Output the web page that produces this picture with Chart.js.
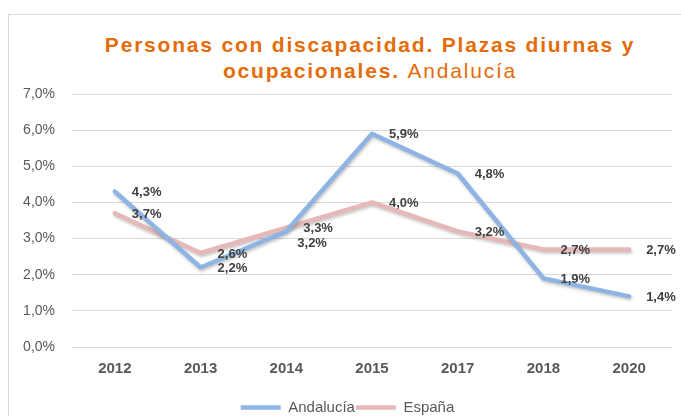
<!DOCTYPE html>
<html>
<head>
<meta charset="utf-8">
<script src="https://cdn.jsdelivr.net/npm/chart.js@4"></script>
<style>
  body { margin: 0; background: #fff; }
  .wrap { position: relative; width: 681px; height: 416px; overflow: hidden; }
  .frame { position: absolute; left: 8px; top: 14px; width: 700px; height: 430px; border: 1px solid #d9d9d9; }
  .title {
    position: absolute; left: 0; top: 32px; width: 740px; text-align: center;
    font-family: "Liberation Sans", Arial, sans-serif; font-size: 21px; line-height: 26px;
    color: #E46C0A; font-weight: bold; letter-spacing: 1.8px;
  }
  .title span { font-weight: normal; }
  canvas { position: absolute; left: 0; top: 0; }
</style>
</head>
<body>
<div class="wrap">
  <div class="frame"></div>
  <div class="title">Personas con discapacidad. Plazas diurnas y<br>ocupacionales. <span>Andalucía</span></div>
  <canvas id="chart" width="681" height="416"></canvas>
</div>
<script>
// data
const years = ["2012", "2013", "2014", "2015", "2017", "2018", "2020"];
const andalucia = [4.3, 2.2, 3.2, 5.9, 4.8, 1.9, 1.4];
const espana = [3.7, 2.6, 3.3, 4.0, 3.2, 2.7, 2.7];
const yTicks = [0, 1, 2, 3, 4, 5, 6, 7];

const fmt = (v) => v.toFixed(1).replace(".", ",") + "%";

// soft shadow under the lines, like the Excel original
const lineShadow = {
  id: "lineShadow",
  beforeDatasetDraw(chart) {
    const ctx = chart.ctx;
    ctx.save();
    ctx.shadowColor = "rgba(0,0,0,0.22)";
    ctx.shadowBlur = 3;
    ctx.shadowOffsetX = 1;
    ctx.shadowOffsetY = 2;
  },
  afterDatasetDraw(chart) {
    chart.ctx.restore();
  },
};

// value labels to the right of each point
const pointLabels = {
  id: "pointLabels",
  afterDatasetsDraw(chart, args, opts) {
    const ctx = chart.ctx;
    ctx.save();
    ctx.font = "bold 13px 'Liberation Sans', Arial, sans-serif";
    ctx.fillStyle = "#404040";
    ctx.textAlign = "left";
    ctx.textBaseline = "middle";
    chart.data.datasets.forEach((ds, i) => {
      const meta = chart.getDatasetMeta(i);
      meta.data.forEach((pt, j) => {
        const shift = (opts.shift[i] && opts.shift[i][j]) || [0, 0];
        ctx.fillText(fmt(ds.data[j]), pt.x + 17 + shift[0], pt.y + 1 + shift[1]);
      });
    });
    ctx.restore();
  },
};

const Ctx = document.getElementById("chart");
const LineChart = new Chart(Ctx, {
  type: "line",
  data: {
    labels: years,
    datasets: [
      {
        label: "Andalucía",
        data: andalucia,
        borderColor: "#8EB4E3",
        backgroundColor: "#8EB4E3",
        borderWidth: 4.5,
        borderCapStyle: "round",
        borderJoinStyle: "round",
        pointRadius: 0,
        tension: 0,
      },
      {
        label: "España",
        data: espana,
        borderColor: "#E6B8B7",
        backgroundColor: "#E6B8B7",
        borderWidth: 4.5,
        borderCapStyle: "round",
        borderJoinStyle: "round",
        pointRadius: 0,
        tension: 0,
      },
    ],
  },
  options: {
    responsive: false,
    animation: false,
    devicePixelRatio: 1,
    layout: { padding: { left: 23, right: 9, top: 94, bottom: -9 } },
    scales: {
      x: {
        offset: true,
        grid: { display: false, drawTicks: false },
        border: { display: false },
        afterFit: (scale) => {
          scale.height += 8;
        },
        ticks: {
          padding: 13,
          color: "#595959",
          font: { family: "'Liberation Sans', Arial, sans-serif", size: 15, weight: "bold" },
        },
      },
      y: {
        min: 0,
        max: 7,
        afterBuildTicks: (scale) => {
          scale.ticks = yTicks.map((v) => ({ value: v }));
        },
        afterFit: (scale) => {
          scale.width = 49;
        },
        grid: { color: "#d9d9d9", lineWidth: 1, drawTicks: false },
        border: { display: false },
        ticks: {
          padding: 17,
          color: "#595959",
          font: { family: "'Liberation Sans', Arial, sans-serif", size: 14 },
          callback: (v) => fmt(v),
        },
      },
    },
    plugins: {
      legend: {
        position: "bottom",
        labels: {
          usePointStyle: true,
          pointStyle: "line",
          pointStyleWidth: 40,
          padding: 1,
          color: "#595959",
          font: { family: "'Liberation Sans', Arial, sans-serif", size: 15 },
        },
      },
      tooltip: { enabled: false },
      pointLabels: {
        shift: { 0: { 2: [-6, 11] } },
      },
    },
  },
  plugins: [lineShadow, pointLabels],
});
</script>
</body>
</html>
